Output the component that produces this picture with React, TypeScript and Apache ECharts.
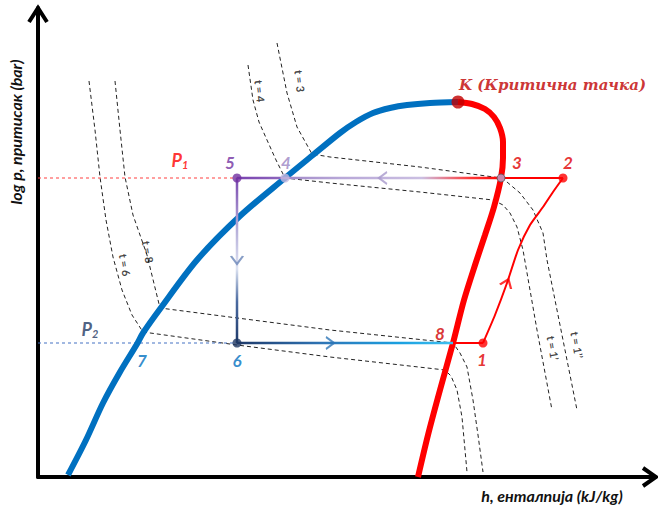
import React, { useEffect, useRef } from 'react';
import * as echarts from 'echarts';

// Enthalpy (h) / log p in arbitrary diagram units
const liquidLine: [number, number][] = [
  [30, 2], [48, 37], [65, 74], [82, 105], [99, 133], [105, 144], [122, 168], [159, 217],
  [202, 261], [247, 299], [275, 322], [302, 344], [318, 355], [335, 364], [352, 369], [369, 372], [392, 374], [420, 375],
];
const vaporLine: [number, number][] = [
  [420, 375], [434, 373], [447, 368], [456, 360], [462, 349], [465, 335], [465, 319], [463, 299],
  [456, 270], [447, 242], [438, 215], [426, 177], [415, 134], [402, 87], [390, 42], [380, 0],
];
const compressionLine: [number, number][] = [
  [445, 134], [457, 162], [469, 194], [480, 227], [492, 252], [505, 270], [515, 285], [525, 299],
];
const isoT6: [number, number][] = [
  [51, 396], [57, 347], [62, 300], [68, 257], [75, 220], [84, 187], [94, 162], [105, 145],
  [199, 132], [292, 120], [407, 107], [413, 101], [419, 87], [424, 60], [429, 5],
];
const isoT8: [number, number][] = [
  [77, 396], [82, 347], [87, 300], [95, 262], [109, 222], [122, 169], [292, 147], [415, 134],
  [422, 124], [429, 110], [435, 77], [440, 42], [445, 5],
];
const isoT4: [number, number][] = [
  [210, 412], [215, 377], [221, 355], [229, 337], [238, 317], [247, 299], [292, 294], [382, 285],
  [455, 277], [465, 272], [472, 264], [479, 250], [485, 227], [499, 147], [514, 67],
];
const isoT3: [number, number][] = [
  [239, 434], [249, 384], [259, 350], [274, 323], [292, 320], [382, 310], [463, 299], [469, 295],
  [482, 284], [495, 267], [505, 244], [509, 217], [524, 142], [539, 67],
];

const P1 = 299;
const P2 = 134;
const pointNames = ['1', '2', '3', '4', '5', '6', '7', '8'];
const pointH = [445, 525, 463, 247, 199, 199, 99, 415];
const pointP = [P2, P1, P1, P1, P1, P2, P2, P2];
const critical: [number, number] = [420, 375];

const isoLabels = ['t = 3', 't = 4', 't = 8', 't = 6', 't = 1’’', 't = 1’'];
const isoLabelPos: [number, number][] = [[262, 396], [222, 386], [110, 225], [87, 212], [539, 132], [515, 129]];
const isoLabelRotate = [-84, -84, -80, -80, -80, -80];

const FONT = 'Lato, "Open Sans", sans-serif';

export default function App() {
  const ref = useRef<HTMLDivElement>(null);
  useEffect(() => {
    if (!ref.current) return;
    const chart = echarts.init(ref.current, undefined, { renderer: 'svg' });
    const pt = (i: number): [number, number] => [pointH[i], pointP[i]];
    const dashIso = (id: string, data: [number, number][]) => ({
      id, type: 'line', data, showSymbol: false, silent: true, z: 1,
      lineStyle: { color: '#222', width: 1, type: [4, 3] },
    });
    const labelColors: Record<string, string> = {
      '1': '#e00000', '2': '#e00000', '3': '#e00000', '8': '#d00000',
      '4': '#9b85c4', '5': '#7030a0', '6': '#0070c0', '7': '#0070c0',
    };
    const labelOffsets: Record<string, [number, number]> = {
      '1': [-1, -16], '2': [5, 16], '3': [16, 16], '4': [1, 16], '5': [-7, 16], '6': [0, -17], '7': [5, -17], '8': [-13, 10],
    };
    const option: any = {
      animation: false,
      grid: { left: 38, right: 3, top: 8, bottom: 30 },
      xAxis: {
        type: 'value', min: 0, max: 617,
        axisLine: { show: true, lineStyle: { color: '#000', width: 4 } },
        axisTick: { show: false }, axisLabel: { show: false }, splitLine: { show: false },
      },
      yAxis: {
        type: 'value', min: 0, max: 469,
        axisLine: { show: true, lineStyle: { color: '#000', width: 4 } },
        axisTick: { show: false }, axisLabel: { show: false }, splitLine: { show: false },
      },
      graphic: [
        { type: 'polyline', shape: { points: [[29, 22], [38, 8], [47, 22]] }, style: { stroke: '#000', lineWidth: 4, fill: 'none' } },
        { type: 'polyline', shape: { points: [[643, 468], [656, 477], [643, 486]] }, style: { stroke: '#000', lineWidth: 4, fill: 'none' } },
        {
          type: 'text', x: 15, y: 132, rotation: Math.PI / 2,
          style: { text: 'log p, притисак (bar)', align: 'center', verticalAlign: 'middle', fill: '#111', font: `italic bold 16px ${FONT}` },
        },
        {
          type: 'text', x: 552, y: 495,
          style: { text: 'h, енталпија (kJ/kg)', align: 'center', verticalAlign: 'middle', fill: '#111', font: `italic bold 16px ${FONT}` },
        },
      ],
      series: [
        dashIso('t6', isoT6), dashIso('t8', isoT8), dashIso('t4', isoT4), dashIso('t3', isoT3),
        { id: 'liquid', type: 'line', data: liquidLine, showSymbol: false, smooth: 0.3, z: 3, lineStyle: { color: '#0070c0', width: 6 } },
        { id: 'vapor', type: 'line', data: vaporLine, showSymbol: false, smooth: 0.3, z: 3, lineStyle: { color: '#ff0000', width: 6 } },
        { id: 'p1', type: 'line', data: [[0, P1], pt(4)], showSymbol: false, z: 2, lineStyle: { color: '#ff4040', width: 1.2, type: [3, 3] } },
        { id: 'p2', type: 'line', data: [[0, P2], pt(5)], showSymbol: false, z: 2, lineStyle: { color: '#4472c4', width: 1.2, type: [3, 3] } },
        { id: 'c81', type: 'line', data: [pt(7), pt(0)], showSymbol: false, z: 4, lineStyle: { color: '#ff0000', width: 2 } },
        { id: 'c12', type: 'line', data: compressionLine, showSymbol: false, smooth: 0.2, z: 4, lineStyle: { color: '#ff0000', width: 2 } },
        { id: 'c23', type: 'line', data: [pt(1), pt(2)], showSymbol: false, z: 4, lineStyle: { color: '#ff0000', width: 2 } },
        { id: 'c35', type: 'line', data: [pt(2), pt(4)], showSymbol: false, z: 4, lineStyle: { color: '#a892cc', width: 2.5 } },
        { id: 'c56', type: 'line', data: [pt(4), pt(5)], showSymbol: false, z: 4, lineStyle: { color: '#6a86b8', width: 2.5 } },
        { id: 'c68', type: 'line', data: [pt(5), pt(7)], showSymbol: false, z: 4, lineStyle: { color: '#2e75b6', width: 2.5 } },
        {
          id: 'arrows', type: 'scatter', z: 5, symbol: 'path://M0,0L7,9L14,0', symbolSize: [12, 8],
          data: [
            { value: [345, P1], symbolRotate: -90, itemStyle: { color: 'transparent', borderColor: '#a898cc', borderWidth: 2 } },
            { value: [199, 217], symbolRotate: 0, itemStyle: { color: 'transparent', borderColor: '#6a86b8', borderWidth: 2 } },
            { value: [292, P2], symbolRotate: 90, itemStyle: { color: 'transparent', borderColor: '#2e75b6', borderWidth: 2 } },
            { value: [469, 194], symbolRotate: 158, itemStyle: { color: 'transparent', borderColor: '#ff0000', borderWidth: 2 } },
          ],
        },
        {
          id: 'states', type: 'scatter', z: 6, symbol: 'circle',
          data: [
            { value: pt(0), symbolSize: 9, itemStyle: { color: '#ff0000' } },
            { value: pt(1), symbolSize: 9, itemStyle: { color: '#ff0000' } },
            { value: pt(2), symbolSize: 8, itemStyle: { color: '#b8a8d8', borderColor: '#555', borderWidth: 1 } },
            { value: pt(3), symbolSize: 9, itemStyle: { color: '#c4b8de' } },
            { value: pt(4), symbolSize: 9, itemStyle: { color: '#7030a0' } },
            { value: pt(5), symbolSize: 9, itemStyle: { color: '#1f3864' } },
            { value: critical, symbolSize: 13, itemStyle: { color: '#c00000' } },
          ],
        },
        {
          id: 'pointLabels', type: 'scatter', z: 7, symbolSize: 0,
          data: pointNames.map((n, i) => ({
            value: pt(i), name: n,
            label: { color: labelColors[n], offset: [labelOffsets[n][0], -labelOffsets[n][1]] },
          })),
          label: { show: true, position: 'inside', formatter: '{b}', fontFamily: FONT, fontStyle: 'italic', fontWeight: 'bold', fontSize: 17 },
        },
        {
          id: 'isoLabels', type: 'scatter', z: 7, symbolSize: 0,
          data: isoLabels.map((n, i) => ({ value: isoLabelPos[i], name: n, label: { rotate: isoLabelRotate[i] } })),
          label: { show: true, position: 'inside', formatter: '{b}', color: '#111', fontFamily: FONT, fontWeight: 'bold', fontSize: 11 },
        },
        {
          id: 'pLabels', type: 'scatter', z: 7, symbolSize: 0,
          data: [
            { value: [142, P1 + 18], name: 'P1', label: { formatter: '{p|P}{s1|1}' } },
            { value: [52, P2 + 14], name: 'P2', label: { formatter: '{q|P}{s2|2}' } },
          ],
          label: {
            show: true, position: 'inside',
            rich: {
              p: { color: '#ff0000', fontFamily: FONT, fontStyle: 'italic', fontWeight: 'bold', fontSize: 18 },
              s1: { color: '#ff0000', fontFamily: FONT, fontStyle: 'italic', fontWeight: 'bold', fontSize: 11, padding: [8, 0, 0, 0] },
              q: { color: '#1f3864', fontFamily: FONT, fontStyle: 'italic', fontWeight: 'bold', fontSize: 18 },
              s2: { color: '#1f3864', fontFamily: FONT, fontStyle: 'italic', fontWeight: 'bold', fontSize: 11, padding: [8, 0, 0, 0] },
            },
          },
        },
        {
          id: 'kLabel', type: 'scatter', z: 7, symbolSize: 0,
          data: [{ value: [critical[0] + 1, critical[1] + 17], name: 'K (Критична тачка)' }],
          label: {
            show: true, position: 'right', distance: 0, formatter: '{b}', color: '#c00000',
            fontFamily: '"DejaVu Serif", "Liberation Serif", serif', fontStyle: 'italic', fontWeight: 'bold', fontSize: 15,
          },
        },
      ],
    };
    chart.setOption(option);

    const px = (p: [number, number]) => chart.convertToPixel({ gridIndex: 0 }, p) as number[];
    const grad = (a: [number, number], b: [number, number], stops: [number, string][]) => {
      const pa = px(a); const pb = px(b);
      return new echarts.graphic.LinearGradient(pa[0], pa[1], pb[0], pb[1], stops.map(([offset, color]) => ({ offset, color })), true);
    };
    chart.setOption({
      series: [
        { id: 'c35', lineStyle: { color: grad(pt(2), pt(4), [[0, '#ff0000'], [0.12, '#ff3a3a'], [0.3, '#cbbfe2'], [0.6, '#b8a8d8'], [0.8, '#a48cca'], [0.84, '#8c64bc'], [1, '#7a42b0']]) } },
        { id: 'c56', lineStyle: { color: grad(pt(4), pt(5), [[0, '#7a48b0'], [0.3, '#b4acd8'], [0.55, '#dde3f2'], [0.75, '#4a6aa0'], [1, '#1f3a6a']]) } },
        { id: 'c68', lineStyle: { color: grad(pt(5), pt(7), [[0, '#1f3a6a'], [0.4, '#2e75b6'], [0.75, '#1aa0e0'], [1, '#40c0f0']]) } },
      ],
    });
    return () => chart.dispose();
  }, []);
  return <div ref={ref} style={{ position: 'fixed', left: 0, top: 0, width: 658, height: 507, background: '#fff' }} />;
}
